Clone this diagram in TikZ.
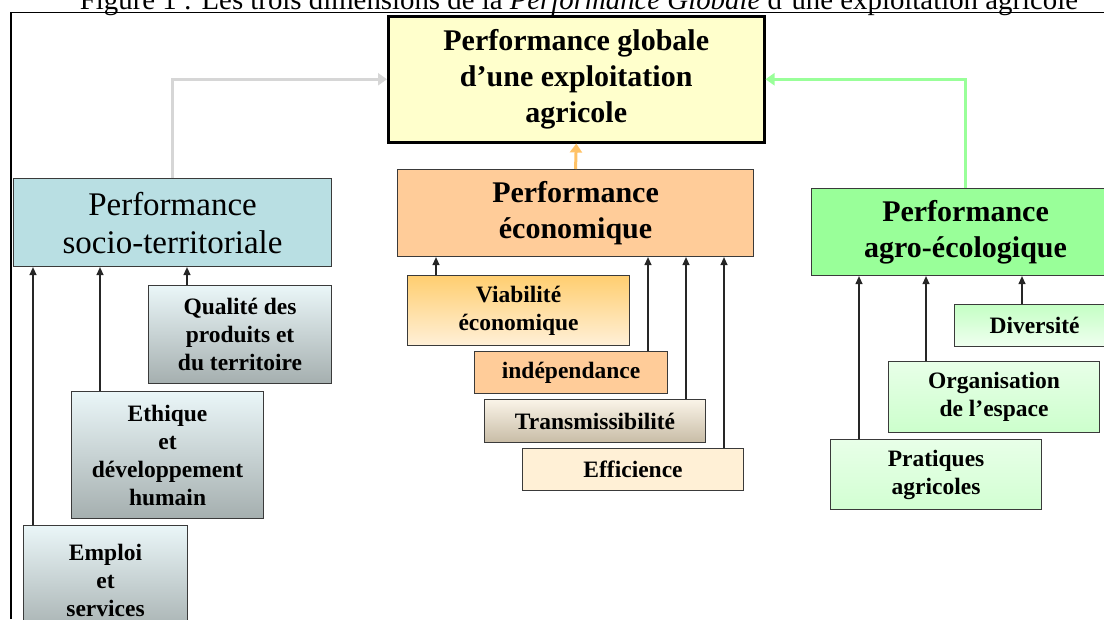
\documentclass[tikz,border=0pt]{standalone}
\usepackage{fontspec}
\setmainfont{Liberation Serif}
\usetikzlibrary{arrows.meta,calc}
\definecolor{topfill}{HTML}{FFFFCC}
\definecolor{ecofill}{HTML}{FFCC99}
\definecolor{socfill}{HTML}{B9DFE3}
\definecolor{agrofill}{HTML}{99FF99}
\definecolor{bordergray}{HTML}{3A3A3A}
\definecolor{linkgray}{HTML}{D6D6D6}
\definecolor{linkorange}{HTML}{FFC266}
\definecolor{linkgreen}{HTML}{99FF99}
\tikzset{
  box/.style={draw=bordergray, line width=1.1pt, inner sep=0pt, anchor=north west, align=center},
  bigfont/.style={font=\fontsize{30}{36}\selectfont\bfseries},
  socfont/.style={font=\fontsize{33}{38}\selectfont},
  smallfont/.style={font=\fontsize{23.5}{28}\selectfont\bfseries},
  arr/.style={draw=black!85, line width=1.2pt, -{Triangle[length=8pt,width=7pt]}},
  fatarr/.style={line width=3pt, -{Triangle[length=9pt,width=12pt]}},
  frame/.style={line width=1.8pt, black}
}
\begin{document}
\begin{tikzpicture}[x=1pt,y=-1pt]
\useasboundingbox (0,0) rectangle (1104,619);
\clip (0,0) rectangle (1104,619);
% title (partly cut off)
\node[anchor=base, inner sep=0pt] (title) at (579,9) {\resizebox{998pt}{!}{Figure 1 : Les trois dimensions de la \textit{Performance Globale} d’une exploitation agricole}};
\draw[frame] (11,619) -- (11,12.5) -- (1104,12.5);
% main boxes
\node[box, bigfont, draw=black, line width=2.5pt, fill=topfill, minimum width=376pt, minimum height=126pt] (top) at (387,15) {Performance globale\\d’une exploitation\\agricole};
\node[box, bigfont, fill=ecofill, minimum width=356pt, minimum height=87pt] (eco) at (397,169) {Performance\\économique};
\node[box, socfont, fill=socfill, minimum width=318pt, minimum height=88pt] (socio) at (13,178) {Performance\\socio-territoriale};
\node[box, bigfont, fill=agrofill, minimum width=308pt, minimum height=87pt] (agro) at (811,188) {Performance\\agro-écologique};
% socio sub boxes
\node[box, smallfont, top color={rgb,255:red,234;green,246;blue,248}, bottom color={rgb,255:red,165;green,175;blue,175}, minimum width=183pt, minimum height=98pt] (qual) at (148,285) {Qualité des\\produits et\\du territoire};
\node[box, smallfont, top color={rgb,255:red,234;green,246;blue,248}, bottom color={rgb,255:red,165;green,175;blue,175}, minimum width=192pt, minimum height=127pt] (ethi) at (71,391) {Ethique\\et\\développement\\humain};
\node[box, smallfont, top color={rgb,255:red,234;green,246;blue,248}, bottom color={rgb,255:red,165;green,175;blue,175}, minimum width=164pt, minimum height=110pt] (empl) at (23,525) {Emploi\\et\\services};
% eco sub boxes
\node[box, smallfont, top color={rgb,255:red,255;green,206;blue,112}, bottom color={rgb,255:red,255;green,240;blue,216}, minimum width=222pt, minimum height=70pt] (viab) at (407,275) {Viabilité\\économique};
\node[box, smallfont, fill=ecofill, minimum width=193pt, minimum height=42pt] (inde) at (474,351) {indépendance};
\node[box, smallfont, top color={rgb,255:red,250;green,244;blue,232}, bottom color={rgb,255:red,200;green,188;blue,166}, minimum width=221pt, minimum height=43pt] (tran) at (484,399) {Transmissibilité};
\node[box, smallfont, fill={rgb,255:red,255;green,240;blue,214}, minimum width=221pt, minimum height=42pt] (effi) at (522,448) {Efficience};
% agro sub boxes
\node[box, smallfont, top color={rgb,255:red,196;green,255;blue,196}, bottom color={rgb,255:red,240;green,255;blue,240}, minimum width=160pt, minimum height=42pt] (dive) at (954,304) {Diversité};
\node[box, smallfont, top color={rgb,255:red,232;green,255;blue,232}, bottom color={rgb,255:red,204;green,255;blue,204}, minimum width=211pt, minimum height=71pt] (orga) at (888,361) {Organisation\\de l’espace};
\node[box, smallfont, top color={rgb,255:red,232;green,255;blue,232}, bottom color={rgb,255:red,210;green,255;blue,210}, minimum width=211pt, minimum height=70pt] (prat) at (830,439) {Pratiques\\agricoles};
% thick coloured links
\draw[fatarr, draw=linkgray] (socio.north) |- (top.west);
\draw[fatarr, draw=linkorange] (eco.north) -- (top.south);
\draw[fatarr, draw=linkgreen] (agro.north) |- (top.east);
% thin links
\coordinate (cqual) at ([xshift=39pt]qual.north west);
\coordinate (cethi) at ([xshift=29pt]ethi.north west);
\coordinate (cempl) at ([xshift=10pt]empl.north west);
\draw[arr] (cqual) -- (cqual |- socio.south);
\draw[arr] (cethi) -- (cethi |- socio.south);
\draw[arr] (cempl) -- (cempl |- socio.south);
\coordinate (cviab) at ([xshift=29pt]viab.north west);
\coordinate (cinde) at ([xshift=174pt]inde.north west);
\coordinate (ctran) at ([xshift=202pt]tran.north west);
\coordinate (ceffi) at ([xshift=202pt]effi.north west);
\draw[arr] (cviab) -- (cviab |- eco.south);
\draw[arr] (cinde) -- (cinde |- eco.south);
\draw[arr] (ctran) -- (ctran |- eco.south);
\draw[arr] (ceffi) -- (ceffi |- eco.south);
\coordinate (cprat) at ([xshift=29pt]prat.north west);
\coordinate (corga) at ([xshift=38pt]orga.north west);
\coordinate (cdive) at ([xshift=68pt]dive.north west);
\draw[arr] (cprat) -- (cprat |- agro.south);
\draw[arr] (corga) -- (corga |- agro.south);
\draw[arr] (cdive) -- (cdive |- agro.south);
\end{tikzpicture}
\end{document}
